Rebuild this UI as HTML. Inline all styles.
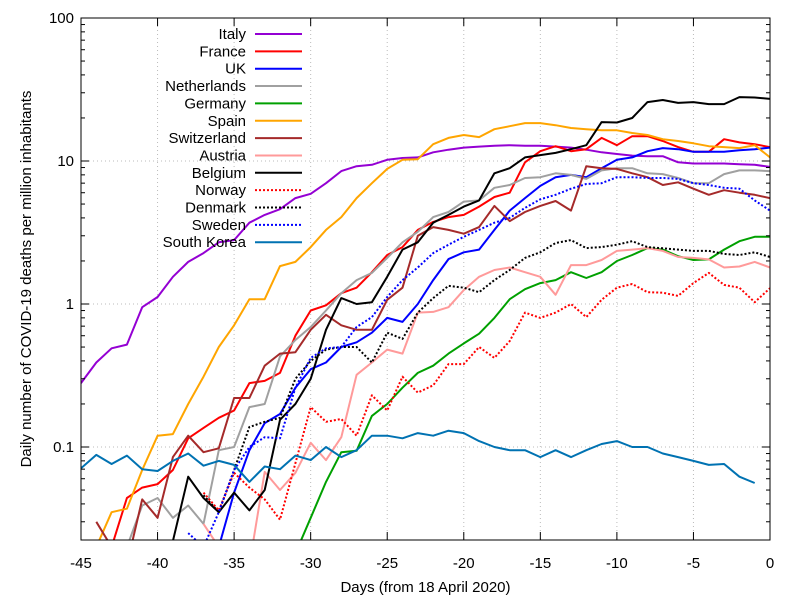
<!DOCTYPE html>
<html><head><meta charset="utf-8"><style>
body{margin:0;background:#fff}
svg{display:block;font-family:"Liberation Sans",sans-serif}
</style></head><body>
<svg id="chart" width="800" height="600" viewBox="0 0 800 600" xmlns="http://www.w3.org/2000/svg">
<defs><clipPath id="clip"><rect x="81" y="18" width="689" height="522"/></clipPath></defs>
</svg>
<script>
const xTicks = [-45,-40,-35,-30,-25,-20,-15,-10,-5,0];
const yTicks = [0.1,1,10,100];
const yTickLabels = ["0.1","1","10","100"];
const names = ["Italy","France","UK","Netherlands","Germany","Spain","Switzerland","Austria","Belgium","Norway","Denmark","Sweden","South Korea"];
const colors = ["#9400d3","#ff0000","#0000ff","#a0a0a0","#00a000","#ffa500","#a52a2a","#ff9a9a","#000000","#ff0000","#000000","#0000ff","#0072b2"];
const dotted = [false,false,false,false,false,false,false,false,false,true,true,true,false];
const startDays = [-45,-43,-36,-42,-31,-44,-44,-37,-39,-37,-37,-38,-45];
const italy = [0.28,0.39,0.49,0.52,0.95,1.12,1.55,1.97,2.27,2.7,2.8,3.7,4.2,4.6,5.5,5.9,7.0,8.5,9.2,9.4,10.2,10.5,10.6,11.5,12.0,12.4,12.6,12.8,12.9,12.8,12.8,12.6,12.4,12.0,11.5,11.2,10.9,10.8,10.8,9.8,9.6,9.6,9.6,9.5,9.4,9.1];
const france = [0.02,0.044,0.052,0.055,0.069,0.115,0.136,0.16,0.18,0.28,0.29,0.33,0.6,0.9,0.98,1.19,1.3,1.67,2.2,2.5,3.3,3.75,4.05,4.2,4.8,5.6,6.0,9.8,11.7,12.7,11.7,12.1,14.5,12.9,14.9,14.9,13.8,12.5,11.6,11.6,14.2,13.5,13.1,12.5];
const uk = [0.02,0.048,0.095,0.147,0.17,0.26,0.35,0.39,0.5,0.54,0.63,0.8,0.75,1.0,1.47,2.06,2.3,2.4,3.3,4.5,5.5,6.7,7.7,8.0,7.7,8.9,10.2,10.6,11.7,12.3,12.1,11.6,11.6,11.6,11.9,12.1,12.4];
const netherlands = [0.02,0.039,0.044,0.032,0.039,0.029,0.095,0.1,0.19,0.2,0.43,0.56,0.69,0.9,1.19,1.47,1.65,2.1,2.7,3.2,4.05,4.4,5.2,5.3,6.5,6.8,7.6,7.7,8.2,8.0,7.5,8.6,8.9,8.9,8.2,8.1,7.6,7.0,7.0,8.1,8.6,8.6,8.5];
const germany = [0.018,0.032,0.057,0.092,0.094,0.165,0.2,0.26,0.33,0.37,0.45,0.53,0.62,0.8,1.08,1.27,1.4,1.47,1.67,1.52,1.67,2.0,2.2,2.46,2.4,2.16,2.03,2.05,2.4,2.75,2.95,2.95];
const spain = [0.02,0.035,0.037,0.069,0.12,0.123,0.2,0.31,0.5,0.71,1.08,1.08,1.84,1.97,2.5,3.3,4.05,5.5,7.0,8.8,10.2,10.3,13.1,14.5,15.2,14.7,16.7,17.5,18.4,18.4,17.8,17.0,16.7,16.4,16.4,15.7,15.2,14.2,13.8,13.3,12.7,12.5,12.3,12.9,10.6];
const switzerland = [0.03,0.02,0.015,0.043,0.032,0.085,0.12,0.092,0.098,0.22,0.22,0.37,0.45,0.46,0.66,0.84,0.71,0.66,0.66,1.07,1.3,3.0,3.45,3.3,3.1,3.45,4.85,3.8,4.4,4.85,5.25,4.5,9.2,8.9,8.8,8.2,7.7,6.8,7.1,6.4,5.8,6.25,6.0,5.8,5.5];
const austria = [0.029,0.02,0.015,0.015,0.067,0.05,0.066,0.107,0.081,0.117,0.32,0.39,0.48,0.45,0.87,0.88,0.95,1.25,1.55,1.73,1.8,1.67,1.55,1.16,1.87,1.87,2.03,2.35,2.4,2.46,2.35,2.13,2.1,2.05,1.8,1.83,1.97,1.8];
const belgium = [0.022,0.062,0.044,0.035,0.048,0.036,0.05,0.155,0.2,0.3,0.66,1.1,1.0,1.03,1.55,2.4,2.7,3.7,4.2,4.8,5.3,8.2,8.9,10.6,11.0,11.4,12.1,12.9,18.7,18.6,20.0,25.8,26.7,25.5,25.8,25.0,25.0,28.0,27.8,27.2];
const norway = [0.048,0.036,0.066,0.052,0.043,0.031,0.077,0.19,0.15,0.157,0.12,0.23,0.18,0.31,0.24,0.27,0.38,0.38,0.5,0.42,0.55,0.87,0.8,0.87,1.0,0.81,1.07,1.3,1.38,1.21,1.2,1.14,1.4,1.65,1.36,1.3,1.03,1.29];
const denmark = [0.046,0.035,0.069,0.138,0.15,0.16,0.3,0.4,0.48,0.5,0.5,0.39,0.63,0.57,0.87,1.1,1.34,1.3,1.21,1.47,1.73,2.1,2.3,2.67,2.8,2.46,2.5,2.6,2.75,2.5,2.45,2.4,2.35,2.35,2.24,2.2,2.3,2.13];
const sweden = [0.025,0.02,0.035,0.069,0.1,0.117,0.115,0.26,0.42,0.49,0.5,0.69,0.81,1.12,1.47,1.8,2.27,2.6,2.95,3.3,3.7,4.0,4.7,5.4,5.8,6.4,6.9,7.0,7.7,7.7,7.6,7.6,7.5,7.0,6.8,6.5,6.4,5.3,4.5];
const southKorea = [0.071,0.088,0.076,0.087,0.07,0.068,0.08,0.09,0.074,0.08,0.075,0.057,0.073,0.07,0.087,0.081,0.1,0.085,0.095,0.12,0.12,0.115,0.125,0.12,0.13,0.125,0.11,0.1,0.095,0.095,0.085,0.095,0.085,0.095,0.105,0.11,0.1,0.1,0.09,0.085,0.08,0.075,0.076,0.062,0.056];
const series = [italy,france,uk,netherlands,germany,spain,switzerland,austria,belgium,norway,denmark,sweden,southKorea];

const L=81,R=770,T=18,B=540, yMin=Math.log10(100)-(B-T)/143;
const xs = d => L + (d+45)*(R-L)/45;
const ys = v => T + (2 - Math.log10(v))*143;
const NS="http://www.w3.org/2000/svg";
const svg=document.getElementById('chart');
function mk(tag,attrs,parent){const e=document.createElementNS(NS,tag);for(const k in attrs)e.setAttribute(k,attrs[k]);(parent||svg).appendChild(e);return e;}

xTicks.forEach(t=>{ if(t>-45&&t<0){const g=mk('line',{x1:xs(t),x2:xs(t),y1:T,y2:B,stroke:'#bbb','stroke-dasharray':'1,3'});

}});
yTicks.forEach(t=>{ if(t<100){const g=mk('line',{x1:L,x2:R,y1:ys(t),y2:ys(t),stroke:'#bbb','stroke-dasharray':'1,3'});

}});

const plot=mk('g',{'clip-path':'url(#clip)'});


series.forEach((vals,i)=>{
  const pts=vals.map((v,j)=>xs(startDays[i]+j).toFixed(1)+','+ys(v).toFixed(1)).join(' ');
  const p=mk('polyline',{points:pts,fill:'none',stroke:colors[i],'stroke-width':2,'stroke-linejoin':'round'},plot);
  if(dotted[i]) p.setAttribute('stroke-dasharray','2,2');
  
  
});

const fr=mk('rect',{x:L,y:T,width:R-L,height:B-T,fill:'none',stroke:'#000','stroke-width':1});



xTicks.forEach(t=>{
  mk('line',{x1:xs(t),x2:xs(t),y1:B,y2:B-8,stroke:'#000'});
  mk('line',{x1:xs(t),x2:xs(t),y1:T,y2:T+8,stroke:'#000'});
  const tx=mk('text',{x:xs(t),y:B+28,'text-anchor':'middle','font-size':15});
  tx.textContent=String(t);
  
  
});
for(let e=-2;e<=2;e++){for(let m=1;m<=9;m++){const v=m*Math.pow(10,e);const lv=Math.log10(v);
  if(lv<yMin-1e-9||lv>2+1e-9)continue;const len=m===1?8:4;
  mk('line',{x1:L,x2:L+len,y1:ys(v),y2:ys(v),stroke:'#000'});
  mk('line',{x1:R,x2:R-len,y1:ys(v),y2:ys(v),stroke:'#000'});}}
yTicks.forEach((t,i)=>{
  const tx=mk('text',{x:L-7,y:ys(t)+5,'text-anchor':'end','font-size':15});
  tx.textContent=yTickLabels[i];
  
  
});
const xt=mk('text',{x:(L+R)/2,y:592,'text-anchor':'middle','font-size':15});
xt.textContent='Days (from 18 April 2020)';


const yt=mk('text',{x:0,y:0,'text-anchor':'middle','font-size':15,transform:'translate(31,279) rotate(-90)'});
yt.textContent='Daily number of COVID-19 deaths per million inhabitants';



const lg=mk('g',{});


names.forEach((n,i)=>{
  const y=34+i*17.35;
  const g=mk('g',{},lg);
  
  
  const t=mk('text',{x:246,y:y+5,'text-anchor':'end','font-size':15},g);
  t.textContent=n;
  const l=mk('line',{x1:255,x2:302,y1:y,y2:y,stroke:colors[i],'stroke-width':2},g);
  if(dotted[i]) l.setAttribute('stroke-dasharray','2,2');
});
</script>
</body></html>
